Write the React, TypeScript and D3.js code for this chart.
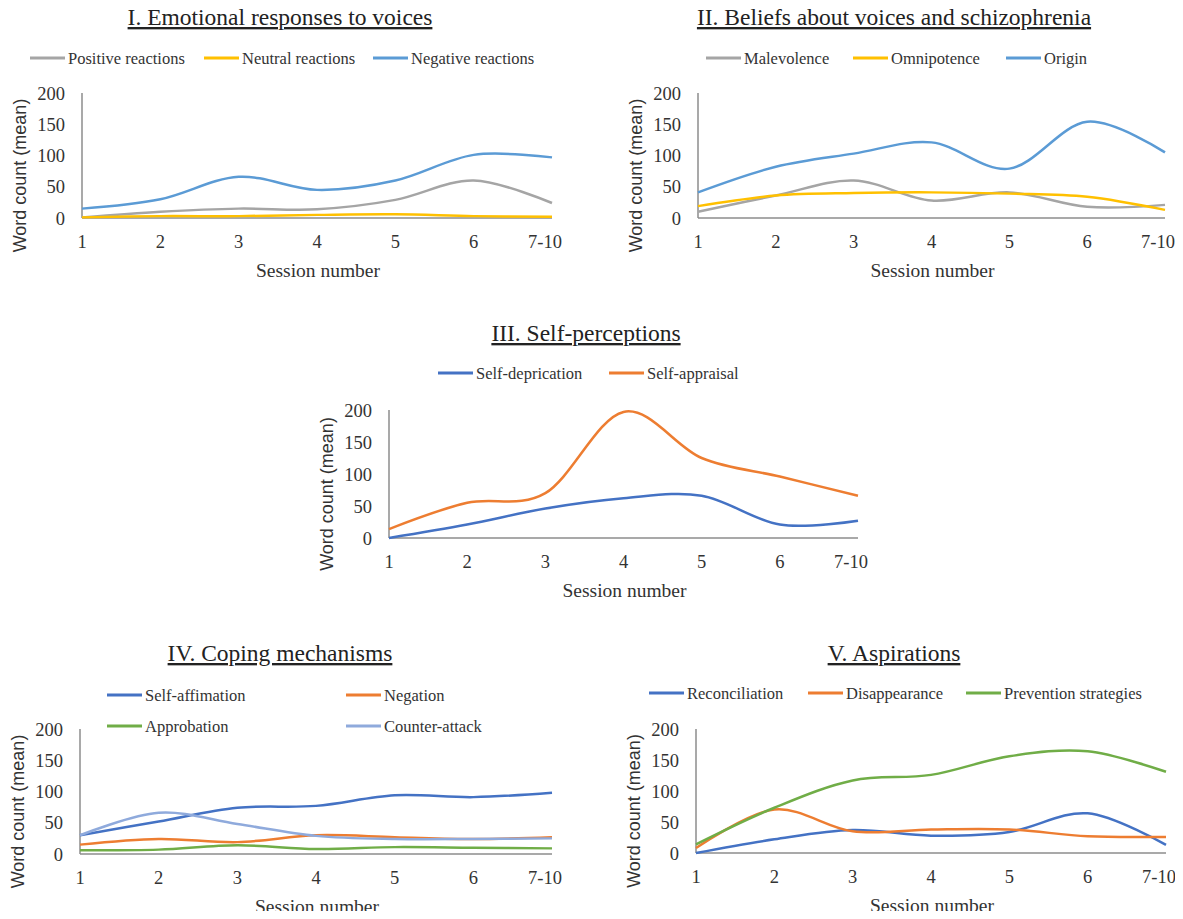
import * as d3 from "d3";

const sessions = ["1", "2", "3", "4", "5", "6", "7-10"];
const yTicks = [0, 50, 100, 150, 200];

// I. Emotional responses to voices
const positiveReactions = [1, 10, 15, 14, 29, 60, 24];
const neutralReactions = [1, 3, 3, 5, 6, 3, 2];
const negativeReactions = [15, 30, 66, 45, 60, 101, 97];

// II. Beliefs about voices and schizophrenia
const malevolence = [10, 36, 60, 28, 41, 18, 21];
const omnipotence = [19, 36, 40, 41, 39, 34, 13];
const origin = [41, 82, 103, 121, 79, 154, 105];

// III. Self-perceptions
const selfDeprication = [0, 21, 46, 62, 66, 21, 27];
const selfAppraisal = [14, 55, 70, 197, 125, 96, 66];

// IV. Coping mechanisms
const selfAffimation = [30, 52, 74, 77, 94, 91, 98];
const negation = [15, 24, 19, 30, 27, 24, 27];
const approbation = [6, 7, 14, 8, 11, 10, 9];
const counterAttack = [30, 66, 48, 29, 24, 24, 25];

// V. Aspirations
const reconciliation = [0, 22, 37, 28, 34, 64, 13];
const disappearance = [8, 70, 35, 38, 38, 27, 26];
const preventionStrategies = [14, 73, 117, 126, 156, 164, 131];

const GRAY = "#a5a5a5";
const GOLD = "#ffc000";
const SKY = "#5b9bd5";
const BLUE = "#4472c4";
const ORANGE = "#ed7d31";
const GREEN = "#70ad47";
const LILAC = "#8faadc";

const serif = "'Liberation Serif', 'Times New Roman', serif";
const sans = "'Liberation Sans', Arial, sans-serif";

type Series = { name: string; values: number[]; color: string; lx: number; ly: number };

type PanelProps = {
  title: string;
  titleX: number;
  titleY: number;
  x0: number;
  x1: number;
  yTop: number;
  yBot: number;
  series: Series[];
};

function Panel({ title, titleX, titleY, x0, x1, yTop, yBot, series }: PanelProps) {
  const x = d3.scalePoint<string>().domain(sessions).range([x0, x1]);
  const y = d3.scaleLinear().domain([0, 200]).range([yBot, yTop]);
  const line = d3
    .line<number>()
    .x((_, i) => x(sessions[i]) as number)
    .y(d => y(d))
    .curve(d3.curveCardinal.tension(0));

  return (
    <g>
      <text
        x={titleX}
        y={titleY}
        textAnchor="middle"
        fontFamily={serif}
        fontSize={23.5}
        fill="#222"
        style={{ textDecoration: "underline" }}
      >
        {title}
      </text>

      {/* legend */}
      {series.map(s => (
        <g key={s.name}>
          <line x1={s.lx} x2={s.lx + 35} y1={s.ly} y2={s.ly} stroke={s.color} strokeWidth={3} />
          <text x={s.lx + 38} y={s.ly + 5.5} fontFamily={serif} fontSize={16.5} fill="#333">
            {s.name}
          </text>
        </g>
      ))}

      {/* y ticks */}
      {yTicks.map(t => (
        <text
          key={t}
          x={x0 - 17}
          y={y(t) + 6.5}
          textAnchor="end"
          fontFamily={serif}
          fontSize={18.5}
          fill="#333"
        >
          {t}
        </text>
      ))}

      {/* x ticks */}
      {sessions.map(s => (
        <text
          key={s}
          x={(x(s) as number) + (s === "7-10" ? -7 : 0)}
          y={yBot + 30}
          textAnchor="middle"
          fontFamily={serif}
          fontSize={18.5}
          fill="#333"
        >
          {s}
        </text>
      ))}

      <text
        x={(x0 + x1) / 2 + 1}
        y={yBot + 59}
        textAnchor="middle"
        fontFamily={serif}
        fontSize={19.5}
        fill="#333"
      >
        Session number
      </text>

      <text
        transform={`translate(${x0 - 56},${(yTop + yBot) / 2 + 20}) rotate(-90)`}
        textAnchor="middle"
        fontFamily={sans}
        fontSize={18}
        fill="#333"
      >
        Word count (mean)
      </text>

      {/* axes */}
      <line x1={x0} x2={x0} y1={yTop} y2={yBot} stroke="#8c8c8c" strokeWidth={1.5} />
      <line x1={x0} x2={x1} y1={yBot} y2={yBot} stroke="#8c8c8c" strokeWidth={1.5} />

      {series.map(s => (
        <path
          key={s.name}
          d={line(s.values) ?? ""}
          fill="none"
          stroke={s.color}
          strokeWidth={2.5}
        />
      ))}
    </g>
  );
}

export default function App() {
  return (
    <svg width={1183} height={919} style={{ display: "block", margin: "-8px", background: "#fff" }}>
      <rect width={1183} height={919} fill="#fff" />
      <Panel
        title="I. Emotional responses to voices"
        titleX={280}
        titleY={25}
        x0={82}
        x1={552}
        yTop={93}
        yBot={218}
        series={[
          { name: "Positive reactions", values: positiveReactions, color: GRAY, lx: 30, ly: 58 },
          { name: "Neutral reactions", values: neutralReactions, color: GOLD, lx: 204, ly: 58 },
          { name: "Negative reactions", values: negativeReactions, color: SKY, lx: 373, ly: 58 },
        ]}
      />
      <Panel
        title="II. Beliefs about voices and schizophrenia"
        titleX={894}
        titleY={25}
        x0={698}
        x1={1165}
        yTop={93}
        yBot={218}
        series={[
          { name: "Malevolence", values: malevolence, color: GRAY, lx: 706, ly: 58 },
          { name: "Omnipotence", values: omnipotence, color: GOLD, lx: 853, ly: 58 },
          { name: "Origin", values: origin, color: SKY, lx: 1006, ly: 58 },
        ]}
      />
      <Panel
        title="III. Self-perceptions"
        titleX={586}
        titleY={341}
        x0={389}
        x1={858}
        yTop={410}
        yBot={538}
        series={[
          { name: "Self-deprication", values: selfDeprication, color: BLUE, lx: 438, ly: 373 },
          { name: "Self-appraisal", values: selfAppraisal, color: ORANGE, lx: 609, ly: 373 },
        ]}
      />
      <Panel
        title="IV. Coping mechanisms"
        titleX={280}
        titleY={661}
        x0={80}
        x1={552}
        yTop={729}
        yBot={854}
        series={[
          { name: "Self-affimation", values: selfAffimation, color: BLUE, lx: 107, ly: 695 },
          { name: "Negation", values: negation, color: ORANGE, lx: 346, ly: 695 },
          { name: "Approbation", values: approbation, color: GREEN, lx: 107, ly: 726 },
          { name: "Counter-attack", values: counterAttack, color: LILAC, lx: 346, ly: 726 },
        ]}
      />
      <Panel
        title="V. Aspirations"
        titleX={894}
        titleY={661}
        x0={696}
        x1={1166}
        yTop={729}
        yBot={853}
        series={[
          { name: "Reconciliation", values: reconciliation, color: BLUE, lx: 649, ly: 693 },
          { name: "Disappearance", values: disappearance, color: ORANGE, lx: 808, ly: 693 },
          { name: "Prevention strategies", values: preventionStrategies, color: GREEN, lx: 966, ly: 693 },
        ]}
      />
    </svg>
  );
}
